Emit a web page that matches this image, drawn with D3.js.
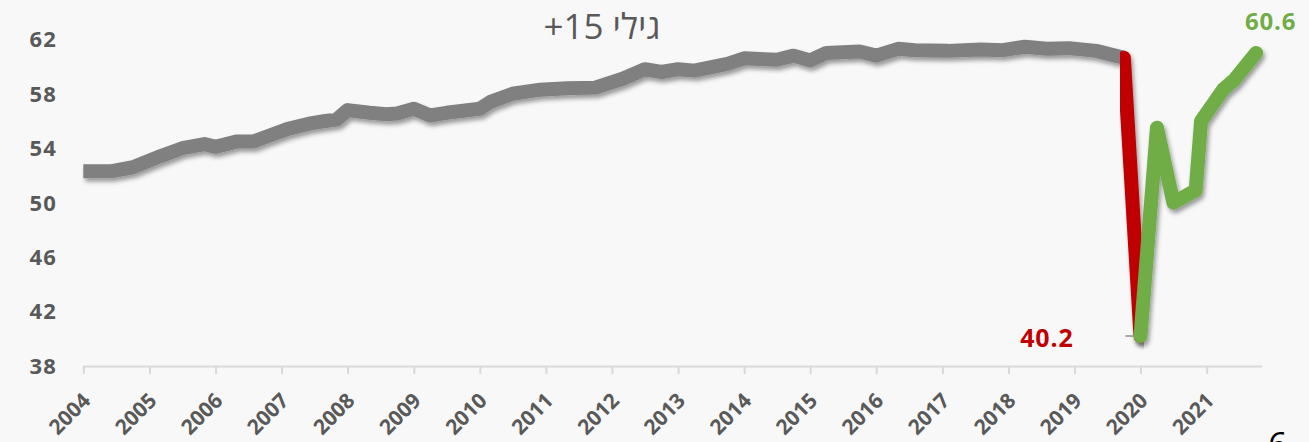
<!DOCTYPE html>
<html><head><meta charset="utf-8">
<script src="https://cdn.jsdelivr.net/npm/d3@7"></script>
<style>
html,body{margin:0;padding:0;background:#f8f8f8;}
svg{display:block;}
</style></head>
<body>
<svg id="chart" width="1309" height="442"></svg>
<script>
// ---- data ----
const title = "גילי 15+";
const yTicks = [38, 42, 46, 50, 54, 58, 62];
const yearTicks = [2004,2005,2006,2007,2008,2009,2010,2011,2012,2013,2014,2015,2016,2017,2018,2019,2020,2021];

const grayDates = ["2004-01","2004-06","2004-10","2005-03","2005-07","2005-11","2006-01","2006-05","2006-08","2006-10",
  "2007-02","2007-06","2007-09","2007-11","2008-01","2008-05","2008-08","2008-10","2009-01","2009-04","2009-07",
  "2010-01","2010-03","2010-07","2010-12","2011-05","2011-10","2012-03","2012-07","2012-10","2013-01","2013-04",
  "2013-10","2014-01","2014-07","2014-10","2015-01","2015-04","2015-10","2016-01","2016-05","2016-08","2017-02",
  "2017-08","2017-12","2018-04","2018-08","2018-12","2019-05","2019-10"];
const grayValues = [52.3,52.3,52.6,53.4,54.0,54.3,54.1,54.5,54.5,54.8,
  55.4,55.8,56.0,56.1,56.8,56.6,56.5,56.55,56.9,56.4,56.6,
  56.9,57.4,58.0,58.3,58.4,58.45,59.1,59.8,59.6,59.8,59.7,
  60.2,60.6,60.5,60.8,60.45,61.0,61.1,60.8,61.3,61.2,61.15,
  61.25,61.2,61.45,61.3,61.35,61.15,60.65];

const dropDates = ["2019-10","2020-01"];
const dropValues = [60.65, 40.2];

const recoveryDates = ["2020-01","2020-04","2020-07","2020-11","2020-12","2021-04","2021-06","2021-10"];
const recoveryValues = [40.2, 55.5, 50.0, 50.9, 56.0, 58.3, 59.0, 61.0];

const minLabel = "40.2";
const lastLabel = "60.6";
const pageMark = "6";

// ---- drawing ----
const parse = d3.timeParse("%Y-%m");
const svg = d3.select("#chart");
const W = 1309, H = 442;

const x = d3.scaleTime()
  .domain([new Date(2004,0,1), new Date(2021,10,1)])
  .range([83.3, 1261.7]);
const y = d3.scaleLinear().domain([38, 62]).range([366, 39.3]);

const defs = svg.append("defs");
const f = defs.append("filter").attr("id","shadow").attr("x","-20%").attr("y","-20%").attr("width","140%").attr("height","140%");
f.append("feDropShadow").attr("dx",2).attr("dy",3.5).attr("stdDeviation",2.2)
  .attr("flood-color","#000").attr("flood-opacity",0.38);

svg.append("rect").attr("width",W).attr("height",H).attr("fill","#f8f8f8");

const textColor = "#595959";
const numFont = "'Open Sans','Noto Sans',sans-serif";

// y axis labels
svg.append("g").selectAll("text").data(yTicks).join("text")
  .attr("x", 57).attr("y", d => y(d)).attr("dy","0.36em")
  .attr("text-anchor","end")
  .attr("font-family", numFont).attr("font-weight",700).attr("font-size",22)
  .attr("letter-spacing", 1.2)
  .attr("fill", textColor).text(d => d);

// x axis
const xAxis = d3.axisBottom(x)
  .tickValues(yearTicks.map(yr => new Date(yr,0,1)))
  .tickFormat(d3.timeFormat("%Y"))
  .tickSizeInner(8).tickSizeOuter(0);
const gx = svg.append("g").attr("transform", `translate(0,${y(38)})`).call(xAxis);
gx.select(".domain").attr("stroke","#d9d9d9").attr("stroke-width",2);
gx.selectAll(".tick line").attr("stroke","#d9d9d9").attr("stroke-width",2);
gx.selectAll(".tick text")
  .attr("font-family", numFont).attr("font-weight",700).attr("font-size",21)
  .attr("fill", textColor)
  .attr("text-anchor","end")
  .attr("y",0).attr("dy",0)
  .attr("transform","translate(8,36) rotate(-45)");

// lines
const line = d3.line().x(d => x(parse(d[0]))).y(d => y(d[1]));
const gray = d3.zip(grayDates, grayValues);
const drop = d3.zip(dropDates, dropValues);
const rec = d3.zip(recoveryDates, recoveryValues);

svg.append("path").datum(gray).attr("d", line)
  .attr("fill","none").attr("stroke","#808080").attr("stroke-width",14)
  .attr("stroke-linejoin","round").attr("stroke-linecap","butt")
  .attr("filter","url(#shadow)");
svg.append("path").datum(drop).attr("d", line)
  .attr("fill","none").attr("stroke","#c00000").attr("stroke-width",14)
  .attr("stroke-linejoin","round").attr("stroke-linecap","round")
  .attr("filter","url(#shadow)");

// small gray marker at minimum
const minX = x(parse(recoveryDates[0])), minY = y(recoveryValues[0]);
svg.append("line").attr("x1", minX - 15).attr("x2", minX).attr("y1", minY).attr("y2", minY)
  .attr("stroke","#a6a6a6").attr("stroke-width",2);

svg.append("path").datum(rec).attr("d", line)
  .attr("fill","none").attr("stroke","#70ad47").attr("stroke-width",14)
  .attr("stroke-linejoin","round").attr("stroke-linecap","round")
  .attr("filter","url(#shadow)");

// labels
svg.append("text").attr("x", minX - 67).attr("y", minY + 10.5)
  .attr("text-anchor","end").attr("font-family",numFont).attr("font-weight",700)
  .attr("font-size",25).attr("letter-spacing",0.8).attr("fill","#c00000").text(minLabel);

const last = rec[rec.length-1];
const lx = x(parse(last[0])), ly = y(last[1]);
svg.append("text").attr("x", lx - 11).attr("y", ly - 23)
  .attr("text-anchor","start").attr("font-family",numFont).attr("font-weight",700)
  .attr("font-size",24).attr("letter-spacing",0.8).attr("fill","#70ad47").text(lastLabel);

// title
svg.append("text").attr("x", 602).attr("y", 39)
  .attr("text-anchor","middle").attr("direction","rtl")
  .attr("font-family","'Open Sans','Liberation Sans','DejaVu Sans',sans-serif")
  .attr("font-size",35).attr("fill",textColor).text(title);

// page mark (cropped at the bottom edge, as in the source)
svg.append("text").attr("x", 1268).attr("y", 457)
  .attr("font-family","'Open Sans','Liberation Sans',sans-serif")
  .attr("font-size",34).attr("fill","#000").text(pageMark);
</script>
</body></html>
